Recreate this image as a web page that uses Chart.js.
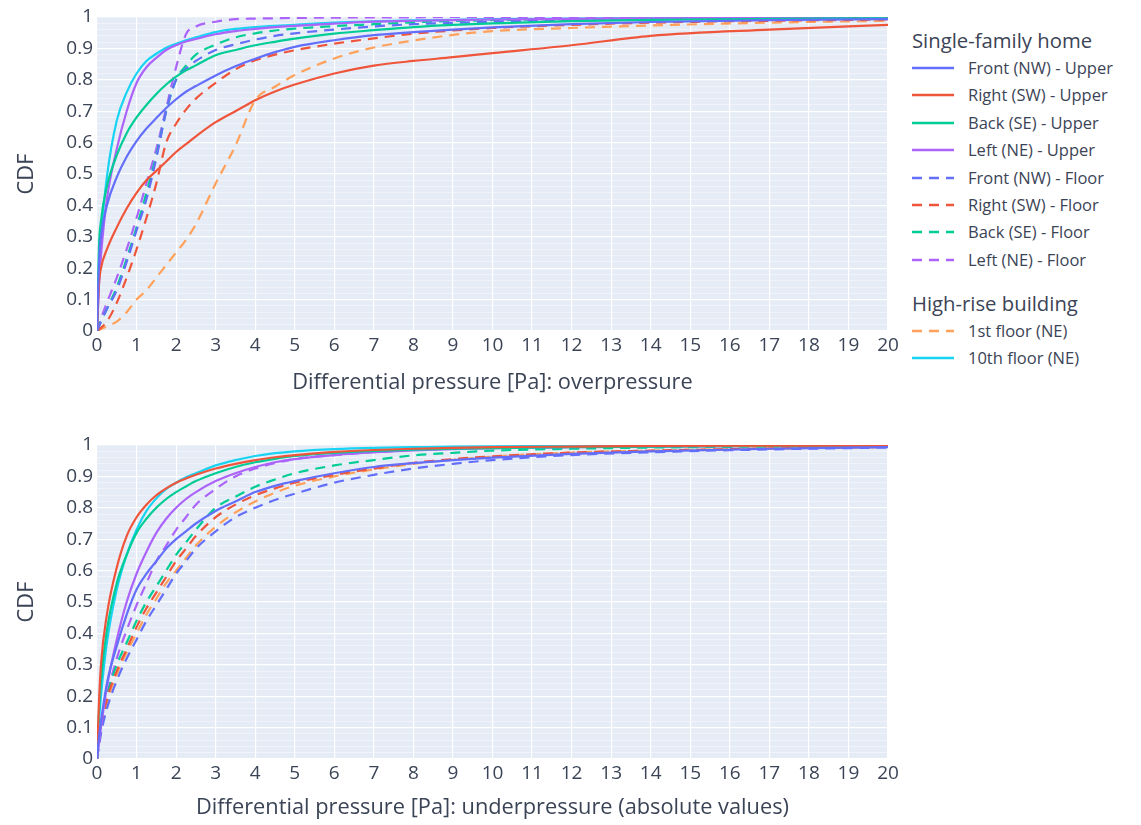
<!DOCTYPE html>
<html>
<head>
<meta charset="utf-8">
<script src="https://cdn.jsdelivr.net/npm/chart.js@4.4.1/dist/chart.umd.min.js"></script>
<style>
  body { margin: 0; background: #fff; font-family: "Open Sans", sans-serif; color: #3b4456; }
  #wrap { position: relative; width: 1141px; height: 825px; overflow: hidden; }
  #topBox { position: absolute; left: 0; top: 0; width: 900px; height: 400px; }
  #botBox { position: absolute; left: 0; top: 428px; width: 900px; height: 397px; }
  #legend { position: absolute; left: 912px; top: 0; font-size: 16.5px; }
  .lg-title { position: absolute; left: 0; white-space: nowrap; font-size: 20.3px; }
  .lg-item { position: absolute; left: 0; white-space: nowrap; height: 24px; }
  .lg-item svg { position: absolute; left: 0; top: 10px; }
  .lg-item span { position: absolute; left: 56px; top: 0; line-height: 24px; }
</style>
</head>
<body>
<div id="wrap">
  <div id="topBox"><canvas id="topChart"></canvas></div>
  <div id="botBox"><canvas id="botChart"></canvas></div>
  <div id="legend"></div>
</div>
<script>
// shared x grid (differential pressure, Pa)
var xGrid = [0, 0.05, 0.1, 0.25, 0.5, 0.75, 1, 1.25, 1.5, 1.75, 2, 2.25, 2.5, 3, 3.5, 4, 4.5, 5, 6, 7, 8, 9, 10, 12, 14, 17, 20];

var seriesNames = ['Front (NW) - Upper', 'Right (SW) - Upper', 'Back (SE) - Upper', 'Left (NE) - Upper',
                   'Front (NW) - Floor', 'Right (SW) - Floor', 'Back (SE) - Floor', 'Left (NE) - Floor',
                   '1st floor (NE)', '10th floor (NE)'];
var seriesColors = ['#636EFA', '#EF553B', '#00CC96', '#AB63FA', '#636EFA', '#EF553B', '#00CC96', '#AB63FA', '#FFA15A', '#19D3F3'];
var seriesDashed = [false, false, false, false, true, true, true, true, true, false];

// overpressure CDFs
var overFrontUpper = [0, .22, .3, .4, .49, .555, .605, .645, .678, .71, .738, .762, .78, .814, .843, .867, .888, .905, .926, .942, .952, .96, .967, .977, .984, .99, .993];
var overRightUpper = [0, .15, .2, .26, .33, .39, .44, .48, .51, .54, .57, .595, .62, .665, .70, .735, .763, .785, .82, .845, .86, .872, .885, .91, .94, .96, .975];
var overBackUpper  = [0, .27, .35, .46, .56, .63, .68, .72, .755, .785, .81, .83, .846, .878, .895, .91, .921, .931, .947, .958, .968, .975, .98, .987, .991, .994, .996];
var overLeftUpper  = [0, .15, .24, .42, .58, .7, .79, .84, .87, .895, .91, .922, .93, .945, .955, .962, .968, .972, .979, .985, .988, .99, .992, .994, .996, .997, .998];
var overFrontFloor = [0, .015, .03, .07, .13, .22, .32, .42, .55, .7, .8, .835, .86, .895, .913, .928, .94, .948, .96, .97, .977, .981, .985, .99, .993, .995, .996];
var overRightFloor = [0, .005, .01, .03, .09, .17, .26, .36, .47, .6, .66, .705, .74, .79, .833, .862, .88, .894, .915, .932, .947, .957, .965, .975, .982, .988, .992];
var overBackFloor  = [0, .015, .03, .07, .14, .23, .33, .44, .56, .7, .8, .845, .88, .912, .935, .948, .957, .963, .971, .977, .983, .987, .99, .993, .995, .997, .998];
var overLeftFloor  = [0, .02, .04, .09, .17, .26, .36, .47, .58, .71, .84, .945, .97, .985, .993, .995, .996, .997, .998, .999, .999, 1, 1, 1, 1, 1, 1];
var over1stFloor   = [0, .003, .006, .015, .03, .06, .1, .13, .17, .21, .25, .29, .34, .47, .59, .735, .778, .815, .868, .903, .925, .943, .955, .965, .973, .982, .988];
var over10thFloor  = [0, .2, .3, .49, .67, .76, .82, .86, .883, .902, .915, .926, .935, .952, .962, .968, .972, .975, .982, .986, .989, .991, .993, .995, .996, .997, .998];

// underpressure CDFs (absolute values)
var underFrontUpper = [0, .07, .12, .24, .36, .46, .54, .59, .63, .67, .7, .725, .75, .79, .82, .85, .87, .885, .91, .93, .942, .952, .96, .972, .98, .988, .993];
var underRightUpper = [0, .18, .3, .46, .61, .71, .77, .81, .84, .862, .88, .893, .905, .925, .94, .952, .961, .968, .978, .984, .988, .991, .993, .995, .997, .998, .998];
var underBackUpper  = [0, .15, .25, .41, .56, .65, .72, .765, .8, .828, .85, .868, .885, .91, .93, .945, .956, .965, .975, .981, .985, .988, .99, .993, .995, .997, .998];
var underLeftUpper  = [0, .05, .1, .23, .38, .5, .59, .66, .72, .765, .8, .828, .85, .885, .91, .93, .945, .955, .968, .977, .983, .987, .99, .993, .995, .997, .998];
var underFrontFloor = [0, .04, .08, .16, .25, .32, .38, .44, .49, .54, .59, .63, .67, .725, .77, .8, .825, .845, .88, .905, .925, .94, .952, .968, .977, .986, .992];
var underRightFloor = [0, .06, .1, .19, .28, .35, .42, .48, .53, .58, .63, .67, .71, .77, .81, .84, .862, .88, .905, .925, .943, .955, .964, .976, .982, .989, .994];
var underBackFloor  = [0, .06, .11, .2, .3, .37, .44, .5, .55, .6, .65, .69, .73, .8, .835, .867, .89, .91, .935, .952, .967, .975, .982, .988, .992, .995, .997];
var underLeftFloor  = [0, .05, .1, .2, .32, .41, .49, .56, .63, .68, .73, .77, .81, .86, .9, .925, .942, .955, .968, .977, .984, .988, .99, .993, .995, .997, .998];
var under1stFloor   = [0, .05, .09, .18, .27, .34, .4, .46, .51, .56, .6, .64, .68, .74, .785, .82, .848, .87, .9, .922, .94, .953, .963, .976, .982, .989, .994];
var under10thFloor  = [0, .12, .2, .37, .54, .65, .73, .79, .83, .86, .88, .897, .91, .935, .952, .965, .974, .98, .987, .991, .993, .995, .996, .997, .998, .999, .999];

var overSeries = [overFrontUpper, overRightUpper, overBackUpper, overLeftUpper,
                  overFrontFloor, overRightFloor, overBackFloor, overLeftFloor, over1stFloor, over10thFloor];
var underSeries = [underFrontUpper, underRightUpper, underBackUpper, underLeftUpper,
                   underFrontFloor, underRightFloor, underBackFloor, underLeftFloor, under1stFloor, under10thFloor];

var textColor = '#3b4456';

function isMajor(v) {
    return Math.abs(v * 10 - Math.round(v * 10)) < 1e-6;
}

// paint plot background like the reference
var plotBg = {
    id: 'plotBg',
    beforeDraw: function(chart) {
        var a = chart.chartArea, ctx = chart.ctx;
        ctx.save();
        ctx.fillStyle = '#E5ECF6';
        ctx.fillRect(a.left, a.top, a.right - a.left, a.bottom - a.top);
        ctx.restore();
    }
};

function buildDatasets(list) {
    var datasets = [];
    list.forEach(function(values, i) {
        datasets.push({
            label: seriesNames[i],
            data: xGrid.map(function(x, j) { return { x: x, y: values[j] }; }),
            borderColor: seriesColors[i],
            backgroundColor: seriesColors[i],
            borderWidth: 2.2,
            borderDash: seriesDashed[i] ? [10, 7] : [],
            pointRadius: 0,
            fill: false,
            cubicInterpolationMode: 'monotone'
        });
    });
    return datasets;
}

function makeChart(canvasId, list, xTitle, xAxisHeight) {
    return new Chart(document.getElementById(canvasId), {
        type: 'line',
        data: { datasets: buildDatasets(list) },
        plugins: [plotBg],
        options: {
            responsive: true,
            maintainAspectRatio: false,
            animation: false,
            layout: { padding: { top: 17, right: 12, left: 0, bottom: 0 } },
            plugins: { legend: { display: false }, tooltip: { enabled: false } },
            scales: {
                x: {
                    type: 'linear',
                    min: 0, max: 20,
                    afterFit: function(s) { s.height = xAxisHeight; s.paddingLeft = 0; s.paddingRight = 0; },
                    ticks: { stepSize: 1, autoSkip: false, maxRotation: 0, padding: 3,
                             color: textColor, font: { family: 'Open Sans', size: 19 } },
                    grid: { color: '#ffffff', lineWidth: 1.2, drawTicks: false },
                    border: { display: false },
                    title: { display: true, text: xTitle, color: textColor,
                             font: { family: 'Open Sans', size: 21.8 }, padding: { top: 0, bottom: 4 } }
                },
                y: {
                    min: 0, max: 1,
                    afterFit: function(s) { s.width = 97; s.paddingTop = 0; s.paddingBottom = 0; },
                    ticks: {
                        stepSize: 0.02, autoSkip: false, padding: 4,
                        color: textColor, font: { family: 'Open Sans', size: 19 },
                        callback: function(v) { return isMajor(v) ? String(+v.toFixed(1)) : ''; }
                    },
                    grid: {
                        drawTicks: false,
                        color: function(c) { return isMajor(c.tick.value) ? '#ffffff' : 'rgba(255,255,255,0.55)'; },
                        lineWidth: function(c) { return isMajor(c.tick.value) ? 1.3 : 0.8; }
                    },
                    border: { display: false },
                    title: { display: true, text: 'CDF', color: textColor,
                             font: { family: 'Open Sans', size: 21.8 }, padding: { top: 14, bottom: 0 } }
                }
            }
        }
    });
}

makeChart('topChart', overSeries, 'Differential pressure [Pa]: overpressure', 69);
makeChart('botChart', underSeries, 'Differential pressure [Pa]: underpressure (absolute values)', 66);

// grouped legend (two groups as in the reference)
var legendGroups = [
    { title: 'Single-family home', top: 26, items: [0, 1, 2, 3, 4, 5, 6, 7] },
    { title: 'High-rise building', top: 289, items: [8, 9] }
];
var legendEl = document.getElementById('legend');
legendGroups.forEach(function(g) {
    var t = document.createElement('div');
    t.className = 'lg-title';
    t.style.top = g.top + 'px';
    t.textContent = g.title;
    legendEl.appendChild(t);
    g.items.forEach(function(idx, k) {
        var row = document.createElement('div');
        row.className = 'lg-item';
        row.style.top = (g.top + 30 + k * 27.4) + 'px';
        var dash = seriesDashed[idx] ? ' stroke-dasharray="10,7"' : '';
        row.innerHTML = '<svg width="42" height="4"><line x1="0" y1="2" x2="42" y2="2" stroke="' +
            seriesColors[idx] + '" stroke-width="2.4"' + dash + '/></svg><span>' + seriesNames[idx] + '</span>';
        legendEl.appendChild(row);
    });
});
</script>
</body>
</html>
